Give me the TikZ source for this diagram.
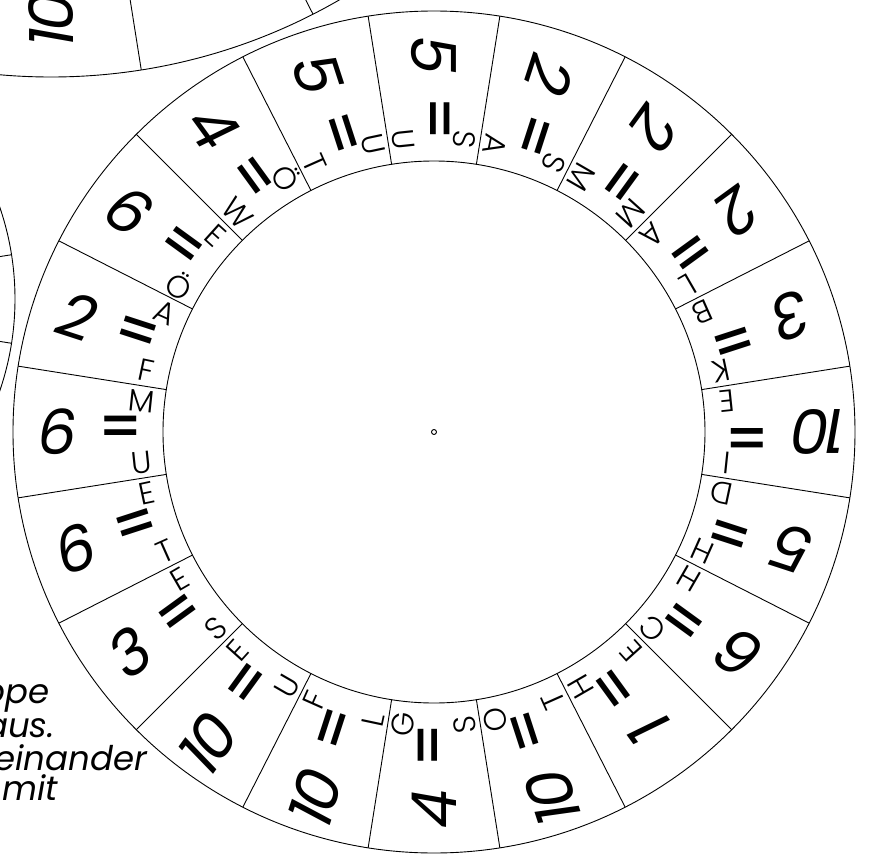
\documentclass[tikz,border=0pt]{standalone}
\usepackage{fontspec}
\setmainfont{Poppins}
\newfontfamily\thinfont{Poppins Light}
\newfontfamily\eqfont{Poppins Medium}
\usetikzlibrary{positioning}

\begin{document}
\begin{tikzpicture}[x=1pt, y=1pt,
  rim/.style={line width=0.9pt},
  numlabel/.style={font=\fontsize{62}{62}\selectfont\itshape\addfontfeatures{LetterSpace=-7}, inner sep=0pt},
  eqlabel/.style={font=\eqfont\fontsize{60}{60}\selectfont, inner sep=0pt},
  letterlabel/.style={font=\thinfont\fontsize{31}{31}\selectfont, inner sep=0pt},
  notelabel/.style={font=\fontsize{34}{34}\selectfont\itshape, inner sep=0pt, anchor=base east}
]
  \fill[white] (-434,-423) rectangle (436,432);
  \useasboundingbox (-434,-423) rectangle (436,432);
  \clip (-434,-423) rectangle (436,432);

  % wheel cut off at the top left
  \begin{scope}[shift={(-383,932)}]
    \draw[rim] (0,0) circle[radius=577];
    \draw[rim] (-99:577) -- (-99:400);
    \draw[rim] (-81:577) -- (-81:400);
    \draw[rim] (-63:577) -- (-63:400);
    \node[numlabel, rotate=90] (topten) at (-90:520) {10};
  \end{scope}

  % wheel cut off at the left
  \begin{scope}[shift={(-702,133)}]
    \draw[rim] (0,0) circle[radius=283];
    \draw[rim] (9:283) -- (9:180);
    \draw[rim] (-9:283) -- (-9:180);
  \end{scope}

  % main wheel
  \draw[rim] (0,0) circle[radius=421];
  \draw[rim] (0,0) circle[radius=271];
  \draw[rim] (0,0) circle[radius=2.5];
  \foreach \k/\num/\la/\lb in {0/6/M/U, 1/2/A/F, 2/6/E/Ö, 3/4/Ö/W, 4/5/U/T,
      5/5/S/U, 6/2/S/A, 7/2/M/M, 8/2/L/A, 9/3/K/B, 10/10/I/E, 11/5/H/D,
      12/6/C/H, 13/1/H/E, 14/10/O/T, 15/4/G/S, 16/10/F/L, 17/10/E/U,
      18/3/E/S, 19/6/E/T} {
    \pgfmathsetmacro\ang{180-18*\k}
    \pgfmathsetmacro\edge{\ang+9}
    \pgfmathsetmacro\anga{\ang-6}
    \pgfmathsetmacro\angb{\ang+6}
    \draw[rim] (\edge:271) -- (\edge:421);
    \node[numlabel, rotate=\ang+180, anchor=east] (num\k) at (\ang:357) {\num};
    \node[eqlabel, rotate=\ang+180] (eq\k) at (\ang:313) {=};
    \node[letterlabel, rotate=\anga+180] (la\k) at (\anga:294) {\la};
    \node[letterlabel, rotate=\angb+180] (lb\k) at (\angb:294) {\lb};
  }

  % cut off instructions
  \node[notelabel] (note1) at (-384,-271) {ppe};
  \node[notelabel] (note2) at (-379,-305) {aus.};
  \node[notelabel] (note3) at (-287,-338) {einander};
  \node[notelabel] (note4) at (-376,-368) {mit};
\end{tikzpicture}
\end{document}
